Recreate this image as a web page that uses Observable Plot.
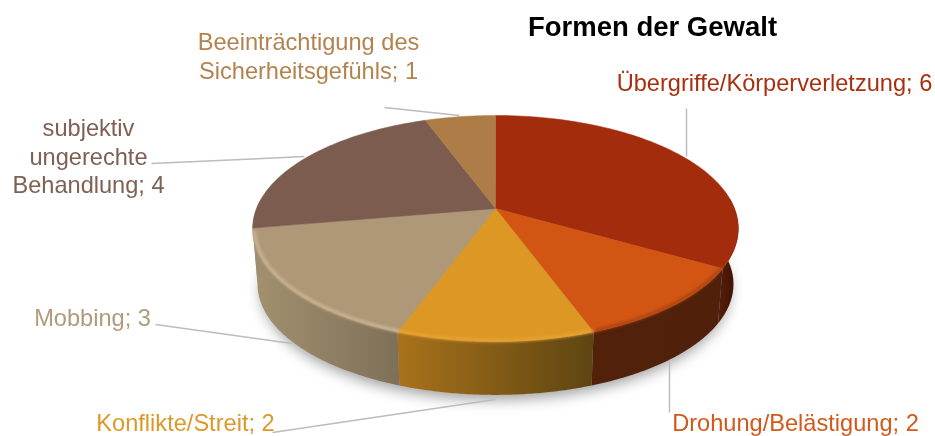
<!DOCTYPE html>
<html><head><meta charset="utf-8">
<script src="https://cdn.jsdelivr.net/npm/d3@7"></script>
<script src="https://cdn.jsdelivr.net/npm/@observablehq/plot@0.6"></script>
<style>
html,body{margin:0;padding:0;background:#fff}
svg{display:block;filter:blur(0.35px)}
</style></head><body>
<script>
// Data
const categories = ["Übergriffe/Körperverletzung","Drohung/Belästigung","Konflikte/Streit","Mobbing","subjektiv\nungerechte\nBehandlung","Beeinträchtigung des\nSicherheitsgefühls"];
const values = [6,2,2,3,4,1];
const title = "Formen der Gewalt";

// Styles
const topColors   = ["#a32c0c","#d35514","#dc9724","#ae9878","#7c5c4f","#ae7c46"];
const labelColors = ["#a8300f","#d2591c","#dd9828","#b09b7c","#7f6053","#b3834f"];
const wallLeft    = ["#55200a","#52210a","#a9721b","#a3916f","#9f8d6d","#ae7c46"];
const wallRight   = ["#3d0e02","#50200a","#5d4512","#7e7058","#9f8d6d","#ae7c46"];
const rimColors   = ["#8f2408","#a8430f","#e8a434","#cdb793","#cdb793","#ae7c46"];

// Layout
const labelX = [774,795,185,92,88,308];
const labelY = [81,421,421,316,155,55];
const leaderX1 = [686,669,272,155,151,384];
const leaderY1 = [108,412,432,324,163,107];
const leaderX2 = [686,669,495,292,304,459];
const leaderY2 = [156,362,399,343,156,115];

// Projection of the tilted disc onto the page
const cx = 495, apexTop = 208, apexBottom = 264;
const persp = -0.177, ax = 239, by = 109.5, bottomScale = 0.98;
function project(deg, level, radius = 1) {
  const t = deg * Math.PI / 180, X = radius * Math.sin(t), Y = -radius * Math.cos(t), w = 1 + persp * Y;
  const s = level === "top" ? 1 : bottomScale;
  const y0 = level === "top" ? apexTop : apexBottom;
  return {x: cx + s * ax * X / w, y: y0 + s * by * Y / w};
}
const total = d3.sum(values);
const ends = Array.from(d3.cumsum(values), v => v / total * 360);
const starts = ends.map((_, i) => i ? ends[i - 1] : 0);
const arc = (a, b, n = 80) => d3.range(n + 1).map(i => a + (b - a) * i / n);

const topRows = categories.flatMap((c, i) => {
  const apex = {x: cx, y: apexTop};
  return [apex, ...arc(starts[i], ends[i]).map(d => project(d, "top")), apex].map(p => ({...p, c, fill: topColors[i]}));
});
const wallRows = i => {
  const a = Math.max(starts[i], 85), b = Math.min(ends[i], 275);
  if (a >= b) return [];
  return [...arc(a, b).map(d => project(d, "top")), ...arc(b, a).map(d => project(d, "bottom"))];
};
const rimRows = i => {
  const a = Math.max(starts[i], 120), b = Math.min(ends[i], 258);
  return a < b ? arc(a, b).map(d => project(d, "top", 0.993)) : [];
};
const shadow = arc(0, 360, 180).map(d => project(d, "bottom", 0.985)).map(p => ({x: p.x, y: p.y + 7}));

const defs = () => {
  const d = d3.create("svg:defs");
  categories.forEach((_, i) => {
    const g = d.append("linearGradient").attr("id", "wall" + i);
    g.append("stop").attr("offset", "0%").attr("stop-color", wallLeft[i]);
    g.append("stop").attr("offset", "100%").attr("stop-color", wallRight[i]);
  });
  return d.node();
};

const labels = categories.map((c, i) => ({text: `${c}; ${values[i]}`, x: labelX[i], y: labelY[i], color: labelColors[i]}));
const leaders = categories.map((c, i) => ({x1: leaderX1[i], y1: leaderY1[i], x2: leaderX2[i], y2: leaderY2[i]}));

const chart = Plot.plot({
  width: 935, height: 436, margin: 0,
  x: {domain: [0, 935], range: [0, 935], axis: null},
  y: {domain: [0, 436], range: [0, 436], axis: null},
  color: {type: "identity"},
  style: {background: "#fff"},
  marks: [
    defs,
    Plot.line(shadow, {x: "x", y: "y", fill: "#000", fillOpacity: 0.38, stroke: "none", imageFilter: "blur(7px)"}),
    Plot.link(leaders, {x1: "x1", y1: "y1", x2: "x2", y2: "y2", stroke: "#bcbcbc", strokeWidth: 1.5}),
    ...categories.map((_, i) => Plot.line(wallRows(i), {x: "x", y: "y", fill: `url(#wall${i})`, stroke: "none"})),
    Plot.line(topRows, {x: "x", y: "y", z: "c", fill: "fill", stroke: "fill", strokeWidth: 0.5}),
    ...categories.map((_, i) => Plot.line(rimRows(i), {x: "x", y: "y", stroke: rimColors[i], strokeWidth: 3, imageFilter: "blur(1.5px)"})),
    Plot.text(labels, {x: "x", y: "y", text: "text", fill: "color", fontSize: 23.6, lineHeight: 1.21, fontFamily: "Liberation Sans", textAnchor: "middle"}),
    Plot.text([title], {x: () => 652, y: () => 27, text: d => d, fill: "#000", fontSize: 27.5, fontWeight: "bold", fontFamily: "Liberation Sans"})
  ]
});
document.body.append(chart);
</script>
</body></html>
